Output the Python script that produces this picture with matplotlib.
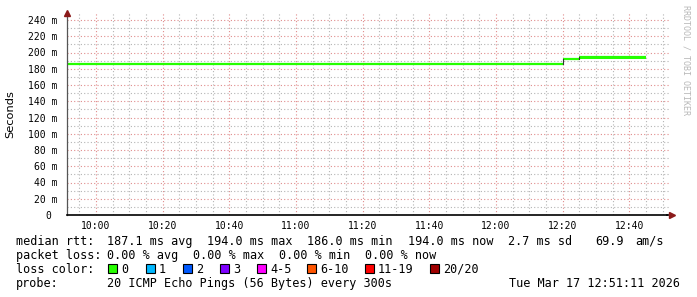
"""Smokeping-style latency graph (RRDtool look)."""

import matplotlib
matplotlib.use('Agg')
import matplotlib.pyplot as plt
from matplotlib.patches import Rectangle

W, H = 697, 297

# ── Data ─────────────────────────────────────────────────────────────────────
# times are minutes since midnight
t_start = 9 * 60 + 51 + 18 / 60      # left edge of graph
t_end = t_start + 180                # 3 hour window
seg_from = [t_start, 12 * 60 + 20, 12 * 60 + 25]
seg_to = [12 * 60 + 20, 12 * 60 + 25, 12 * 60 + 45]
seg_rtt = [186.0, 192.0, 194.0]          # median rtt, ms
seg_smoke_lo = [185.0, 191.0, 192.5]
seg_smoke_hi = [186.5, 192.5, 195.5]

tick_times = [600, 620, 640, 660, 680, 700, 720, 740, 760]
y_ticks = [0, 20, 40, 60, 80, 100, 120, 140, 160, 180, 200, 220, 240]

loss_labels = ['0', '1', '2', '3', '4-5', '6-10', '11-19', '20/20']
loss_colors = ['#26ff00', '#00b8ff', '#0059ff', '#7e00ff', '#ff00ff',
               '#ff5500', '#ff0000', '#a00000']

stats_rtt = ['187.1 ms avg', '194.0 ms max', '186.0 ms min', '194.0 ms now',
             '2.7 ms sd', '69.9', 'am/s']
stats_loss = ['0.00 % avg', '0.00 % max', '0.00 % min', '0.00 % now']
probe_text = '20 ICMP Echo Pings (56 Bytes) every 300s'
stamp_text = 'Tue Mar 17 12:51:11 2026'


def px(x, y):
    """pixel coords (top-left origin) -> figure fraction"""
    return x / W, 1 - y / H


fig = plt.figure(figsize=(W / 100, H / 100), dpi=100)
fig.patch.set_facecolor('white')

# plot area: x 67..667, y 13..215 (pixels)
ax_l, ax_r, ax_t, ax_b = 67, 667, 13, 215
ax = fig.add_axes([ax_l / W, 1 - ax_b / H, (ax_r - ax_l) / W, (ax_b - ax_t) / H])
ax.set_facecolor('white')

px_per_ms = (215 - 20) / 240
y_top = 240 + (20 - ax_t) / px_per_ms
ax.set_xlim(t_start, t_end)
ax.set_ylim(0, y_top)

# ── Grid ─────────────────────────────────────────────────────────────────────
minor_c = '#b4b4b4'
major_c = '#e08c8c'
t = 9 * 60 + 55
while t < t_end:
    if t % 20 != 0:
        ax.axvline(t, color=minor_c, lw=0.8, ls=(0, (1, 2)), zorder=1)
    t += 5
for v in range(10, 250, 20):
    ax.axhline(v, xmax=1.004, color=minor_c, lw=0.8, ls=(0, (1, 2)),
               zorder=1, clip_on=False)
for t in tick_times:
    ax.axvline(t, color=major_c, lw=0.8, ls=(0, (1, 2)), zorder=2)
for v in y_ticks[1:]:
    ax.axhline(v, xmax=1.004, color=major_c, lw=0.8, ls=(0, (1, 2)),
               zorder=2, clip_on=False)

# ── Smoke + median line ─────────────────────────────────────────────────────
for a, b, lo, hi, r in zip(seg_from, seg_to, seg_smoke_lo, seg_smoke_hi, seg_rtt):
    ax.fill_between([a, b], lo, hi, color='#26ff00', lw=0, zorder=3)
    ax.plot([a, b], [r, r], color='#26ff00', lw=1.6, zorder=4,
            solid_capstyle='butt')
for i in range(1, len(seg_rtt)):
    ax.plot([seg_from[i], seg_from[i]], [seg_rtt[i - 1], seg_rtt[i]],
            color='#333333', lw=0.8, zorder=5)

# ── Axes ─────────────────────────────────────────────────────────────────────
for s in ['top', 'right']:
    ax.spines[s].set_visible(False)
ax.spines['left'].set_color('#555555')
ax.spines['left'].set_linewidth(0.9)
ax.spines['bottom'].set_color('black')
ax.spines['bottom'].set_linewidth(1.2)
ax.spines['left'].set_zorder(6)
ax.spines['bottom'].set_zorder(6)

ax.set_xticks(tick_times)
ax.set_xticklabels([f'{m // 60}:{m % 60:02d}' for m in tick_times])
ax.set_yticks(y_ticks)
ax.set_yticklabels([f'{v} m' if v else '0 ' for v in y_ticks])
ax.tick_params(axis='both', length=0, labelsize=7, pad=4,
               labelfontfamily='DejaVu Sans Mono')
ax.tick_params(axis='y', pad=7)

# axis line runs a little past the plot area, then the arrow head
ax.plot([1.0, 1.005], [0, 0], color='black', lw=1.2, clip_on=False,
        transform=ax.transAxes, zorder=6)
arrow_c = '#8b1a1a'
ax.plot([1.008], [0], marker='>', ms=5, color=arrow_c, clip_on=False,
        transform=ax.transAxes, zorder=7)
ax.plot([0], [1.0], marker='^', ms=5, color=arrow_c, clip_on=False,
        transform=ax.transAxes, zorder=7)

fig.text(*px(10, 114), 'Seconds', rotation=90, ha='center', va='center',
         fontsize=8.2, family='DejaVu Sans')
fig.text(*px(686, 5), 'RRDTOOL / TOBI OETIKER', rotation=270, ha='center',
         va='top', fontsize=6, color='#b8b8b8', family='DejaVu Sans Mono')

# ── Legend / stats ───────────────────────────────────────────────────────────
mono = dict(fontsize=8.5, family='DejaVu Sans Mono', va='baseline')
fig.text(*px(16, 245), 'median rtt:', **mono)
for x, s in zip([107, 207, 307, 408, 508, 595, 635], stats_rtt):
    fig.text(*px(x, 245), s, **mono)

fig.text(*px(16, 259), 'packet loss:', **mono)
for x, s in zip([107, 193, 279, 365], stats_loss):
    fig.text(*px(x, 259), s, **mono)

fig.text(*px(16, 273), 'loss color:', **mono)
for x, lab, c in zip([108, 146, 183, 220, 257, 307, 365, 430],
                     loss_labels, loss_colors):
    bx, by = px(x, 273)
    fig.add_artist(Rectangle((bx, by), 9 / W, 9 / H, facecolor=c,
                             edgecolor='black', lw=0.8,
                             transform=fig.transFigure))
    fig.text(*px(x + 13, 273), lab, **mono)

fig.text(*px(16, 287), 'probe:', **mono)
fig.text(*px(107, 287), probe_text, **mono)
fig.text(*px(680, 287), stamp_text, ha='right', **mono)

plt.savefig('out.png', dpi=100)
plt.close()
print("Saved: out.png")
